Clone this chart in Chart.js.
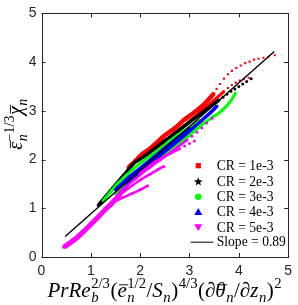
<!DOCTYPE html>
<html>
<head>
<meta charset="utf-8">
<script src="https://cdn.jsdelivr.net/npm/chart.js@4.4.1/dist/chart.umd.min.js"></script>
<style>
  html, body { margin: 0; padding: 0; background: #fff; }
  #wrap { width: 298px; height: 305px; }
</style>
</head>
<body>
<div id="wrap"><canvas id="c" width="298" height="305"></canvas></div>
<script>
// values
const xTicks = [0, 1, 2, 3, 4, 5];
const yTicks = [0, 1, 2, 3, 4, 5];
const legendLabels = ['CR = 1e-3', 'CR = 2e-3', 'CR = 3e-3', 'CR = 4e-3', 'CR = 5e-3'];
const slopeLabel = 'Slope = 0.89';

const slopeX = [0.48, 4.72];
const slopeY = [0.42, 4.22];

// CR = 1e-3
const red1 = [[1.75,1.82],[1.9,1.97],[2.05,2.12],[2.2,2.22],[2.35,2.36],[2.5,2.5],[2.7,2.64],[2.9,2.82],[3.1,2.97],[3.3,3.14],[3.5,3.36]];
const red1Dots = [[3.55,3.45],[3.62,3.55],[3.7,3.66],[3.78,3.75],[3.86,3.82],[3.95,3.88],[4.04,3.93],[4.13,3.98],[4.22,4.01],[4.31,4.05],[4.4,4.07],[4.5,4.09],[4.6,4.11],[4.73,4.14]];
const red2 = [[2.3,2.22],[2.5,2.36],[2.7,2.54],[3.0,2.78],[3.3,3.05],[3.5,3.22],[3.7,3.4]];
const red2Dots = [[3.78,3.47],[3.86,3.53],[3.94,3.58],[4.02,3.62],[4.1,3.65],[4.2,3.68]];
// CR = 2e-3
const black1 = [[1.15,1.06],[1.3,1.24],[1.45,1.42],[1.6,1.6],[1.75,1.78],[1.9,1.95],[2.05,2.04],[2.2,2.15],[2.4,2.31],[2.6,2.46],[2.8,2.61],[3.0,2.77],[3.2,2.92],[3.4,3.07],[3.6,3.22]];
const black1Dots = [[3.68,3.28],[3.76,3.34],[3.84,3.4],[3.92,3.45],[4.0,3.5],[4.08,3.55],[4.16,3.6],[4.25,3.66]];
// CR = 3e-3
const green1 = [[1.25,1.16],[1.4,1.34],[1.55,1.52],[1.7,1.66],[1.85,1.8],[2.05,1.96],[2.3,2.14],[2.6,2.38],[2.9,2.6],[3.2,2.8]];
const green2 = [[1.5,1.3],[2.0,1.72],[2.5,2.12],[3.0,2.5],[3.3,2.75],[3.45,2.86],[3.55,2.92],[3.65,3.0],[3.75,3.1],[3.85,3.22],[3.93,3.36]];
// CR = 4e-3
const blue1 = [[1.4,1.05],[1.6,1.3],[1.8,1.55],[2.0,1.74],[2.3,2.0],[2.6,2.25],[2.9,2.5],[3.2,2.76],[3.4,2.94],[3.56,3.1]];
const blue2 = [[1.5,1.38],[1.8,1.66],[2.1,1.9],[2.4,2.15],[2.7,2.4],[3.0,2.63]];
// CR = 5e-3
const magTrunk = [[0.45,0.2],[0.55,0.27],[0.7,0.38],[0.85,0.52],[1.0,0.67],[1.15,0.82],[1.3,0.98],[1.45,1.13],[1.6,1.3]];
const mag1 = [[1.45,1.12],[1.65,1.22],[1.85,1.31],[2.0,1.38],[2.15,1.46]];
const mag2 = [[1.5,1.2],[1.75,1.4],[2.0,1.58],[2.2,1.7],[2.35,1.79],[2.48,1.86]];
const mag3 = [[1.6,1.35],[1.9,1.6],[2.2,1.84],[2.5,2.06],[2.75,2.25],[2.95,2.4]];
const mag3Dots = [[3.05,2.48],[3.15,2.56],[3.25,2.65],[3.35,2.75],[3.46,2.85]];
const mag4 = [[2.0,1.72],[2.3,1.95],[2.6,2.12],[2.8,2.22]];
const mag4Dots = [[2.9,2.28],[3.0,2.33],[3.1,2.38]];

const COLORS = {
  red: '#ff0000',
  black: '#000000',
  green: '#00ff00',
  blue: '#0000ff',
  magenta: '#ff00ff',
  axis: '#262626'
};

function branch(pts, color, width, order, dotsOnly) {
  return {
    data: pts.map(p => ({ x: p[0], y: p[1] })),
    showLine: !dotsOnly,
    borderColor: color,
    borderWidth: width,
    tension: 0.2,
    pointRadius: 1.5,
    pointStyle: color === COLORS.red ? 'rect' : 'circle',
    pointBackgroundColor: color,
    pointBorderWidth: 0,
    order: order
  };
}

const datasets = [
  { data: slopeX.map((v, i) => ({ x: v, y: slopeY[i] })), showLine: true, borderColor: '#000',
    borderWidth: 1.4, pointRadius: 0, order: 0 },
  branch(magTrunk, COLORS.magenta, 5, 1),
  branch(mag1, COLORS.magenta, 2.5, 1),
  branch(mag2, COLORS.magenta, 2.5, 1),
  branch(mag3, COLORS.magenta, 2.5, 1),
  branch(mag3Dots, COLORS.magenta, 0, 1, true),
  branch(mag4, COLORS.magenta, 2.5, 1),
  branch(mag4Dots, COLORS.magenta, 0, 1, true),
  branch(blue1, COLORS.blue, 3.5, 2),
  branch(blue2, COLORS.blue, 3.5, 2),
  branch(green1, COLORS.green, 3, 3),
  branch(green2, COLORS.green, 3, 3),
  branch(black1, COLORS.black, 3.5, 4),
  branch(black1Dots, COLORS.black, 0, 4, true),
  branch(red1, COLORS.red, 4.5, 5),
  branch(red1Dots, COLORS.red, 0, 5, true),
  branch(red2, COLORS.red, 3, 5),
  branch(red2Dots, COLORS.red, 0, 5, true)
];

// small math-text helper: base glyph + optional sub/sup stacked
function fnt(italic, size) {
  return (italic ? 'italic ' : '') + size + 'px "Liberation Serif", serif';
}

function mathWidth(ctx, items, size) {
  let w = 0;
  items.forEach(it => {
    ctx.font = fnt(it.it, size);
    it.w = ctx.measureText(it.t).width;
    const ss = size * 0.7;
    let sw = 0;
    if (it.sub) { ctx.font = fnt(true, ss); sw = Math.max(sw, ctx.measureText(it.sub).width); }
    if (it.sup) { ctx.font = fnt(false, ss); sw = Math.max(sw, ctx.measureText(it.sup).width); }
    it.sw = sw ? sw + 1 : 0;
    w += it.w + it.sw;
  });
  return w;
}

function drawMath(ctx, items, size, cx, cy) {
  const total = mathWidth(ctx, items, size);
  let x = cx - total / 2;
  ctx.fillStyle = '#000';
  ctx.strokeStyle = '#000';
  ctx.textBaseline = 'alphabetic';
  ctx.textAlign = 'left';
  items.forEach(it => {
    ctx.font = fnt(it.it, size);
    ctx.fillText(it.t, x, cy);
    if (it.bar) {
      const by = cy - size * 0.58;
      ctx.lineWidth = 0.9;
      ctx.beginPath();
      ctx.moveTo(x + 1.5, by);
      ctx.lineTo(x + it.w + 1.5, by);
      ctx.stroke();
    }
    const ss = size * 0.7;
    if (it.sub) { ctx.font = fnt(true, ss); ctx.fillText(it.sub, x + it.w + 0.5, cy + size * 0.25); }
    if (it.sup) { ctx.font = fnt(false, ss); ctx.fillText(it.sup, x + it.w + 0.5, cy - size * 0.42); }
    x += it.w + it.sw;
  });
}

const xTitle = [
  { t: 'PrRe', it: true, sub: 'b', sup: '2/3' },
  { t: '(', it: false },
  { t: 'e', it: true, bar: true, sub: 'n', sup: '1/2' },
  { t: '/', it: false },
  { t: 'S', it: true, sub: 'n' },
  { t: ')', it: false, sup: '4/3' },
  { t: '(\u2202', it: false },
  { t: '\u03b8', it: true, bar: true, sub: 'n' },
  { t: '/\u2202', it: false },
  { t: 'z', it: true, sub: 'n' },
  { t: ')', it: false, sup: '2' }
];
const yTitle = [
  { t: '\u03b5', it: true, bar: true, sub: 'n', sup: '\u22121/3' },
  { t: '\u03c7', it: true, bar: true, sub: 'n' }
];

function star(ctx, cx, cy, ro, ri) {
  ctx.beginPath();
  for (let i = 0; i < 10; i++) {
    const r = i % 2 ? ri : ro;
    const a = -Math.PI / 2 + i * Math.PI / 5;
    ctx.lineTo(cx + r * Math.cos(a), cy + r * Math.sin(a));
  }
  ctx.closePath();
  ctx.fill();
}

const decorPlugin = {
  id: 'decor',
  afterDraw(chart) {
    const { ctx, chartArea: a, scales } = chart;
    ctx.save();
    // box and inward ticks on all sides
    ctx.strokeStyle = COLORS.axis;
    ctx.lineWidth = 1;
    ctx.strokeRect(Math.round(a.left) + 0.5, Math.round(a.top) + 0.5,
      Math.round(a.right - a.left) - 1, Math.round(a.bottom - a.top));
    ctx.beginPath();
    xTicks.forEach(v => {
      const px = Math.round(scales.x.getPixelForValue(v)) + 0.5;
      ctx.moveTo(px, a.bottom); ctx.lineTo(px, a.bottom - 4);
      ctx.moveTo(px, a.top); ctx.lineTo(px, a.top + 4);
    });
    yTicks.forEach(v => {
      const py = Math.round(scales.y.getPixelForValue(v)) + 0.5;
      ctx.moveTo(a.left, py); ctx.lineTo(a.left + 4, py);
      ctx.moveTo(a.right, py); ctx.lineTo(a.right - 4, py);
    });
    ctx.stroke();

    // axis titles
    drawMath(ctx, xTitle, 21, (a.left + a.right) / 2, 297);
    ctx.save();
    ctx.translate(22, 124);
    ctx.rotate(-Math.PI / 2);
    drawMath(ctx, yTitle, 20, 0, 0);
    ctx.restore();

    // legend
    const mx = 198.3, tx = 216.7;
    const rows = [165.7, 181.4, 196.7, 211.9, 227.3, 241.7];
    ctx.fillStyle = COLORS.red;
    ctx.fillRect(mx - 2.6, rows[0] - 2.6, 5.2, 5.2);
    ctx.fillStyle = COLORS.black;
    star(ctx, mx, rows[1] + 0.5, 4.6, 1.9);
    ctx.fillStyle = COLORS.green;
    ctx.beginPath(); ctx.arc(mx, rows[2], 3.3, 0, Math.PI * 2); ctx.fill();
    ctx.fillStyle = COLORS.blue;
    ctx.beginPath(); ctx.moveTo(mx, rows[3] - 3.8); ctx.lineTo(mx + 4, rows[3] + 3); ctx.lineTo(mx - 4, rows[3] + 3); ctx.closePath(); ctx.fill();
    ctx.fillStyle = COLORS.magenta;
    ctx.beginPath(); ctx.moveTo(mx, rows[4] + 3.8); ctx.lineTo(mx + 4, rows[4] - 3); ctx.lineTo(mx - 4, rows[4] - 3); ctx.closePath(); ctx.fill();
    ctx.strokeStyle = '#000';
    ctx.lineWidth = 1;
    ctx.beginPath(); ctx.moveTo(190.7, rows[5] + 0.5); ctx.lineTo(213.3, rows[5] + 0.5); ctx.stroke();

    ctx.fillStyle = '#000';
    ctx.font = '13.6px "Liberation Serif", serif';
    ctx.textBaseline = 'middle';
    ctx.textAlign = 'left';
    legendLabels.forEach((t, i) => ctx.fillText(t, tx, rows[i] + 1));
    ctx.fillText(slopeLabel, tx, rows[5] + 1);
    ctx.restore();
  }
};

new Chart(document.getElementById('c'), {
  type: 'scatter',
  data: { datasets: datasets },
  options: {
    responsive: false,
    animation: false,
    layout: { padding: { left: 0, right: 2, top: 5, bottom: 0 } },
    plugins: { legend: { display: false }, tooltip: { enabled: false } },
    scales: {
      x: {
        type: 'linear', min: 0, max: 5,
        afterBuildTicks: s => { s.ticks = xTicks.map(v => ({ value: v })); },
        afterFit: s => { s.height = 48; },
        ticks: { color: COLORS.axis, font: { family: '"Liberation Sans", Arial', size: 14 }, padding: 6 },
        grid: { display: false, drawTicks: false },
        border: { display: false }
      },
      y: {
        type: 'linear', min: 0, max: 5,
        afterBuildTicks: s => { s.ticks = yTicks.map(v => ({ value: v })); },
        afterFit: s => { s.width = 41.5; },
        ticks: { color: COLORS.axis, font: { family: '"Liberation Sans", Arial', size: 14 }, padding: 5 },
        grid: { display: false, drawTicks: false },
        border: { display: false }
      }
    }
  },
  plugins: [decorPlugin]
});
</script>
</body>
</html>
